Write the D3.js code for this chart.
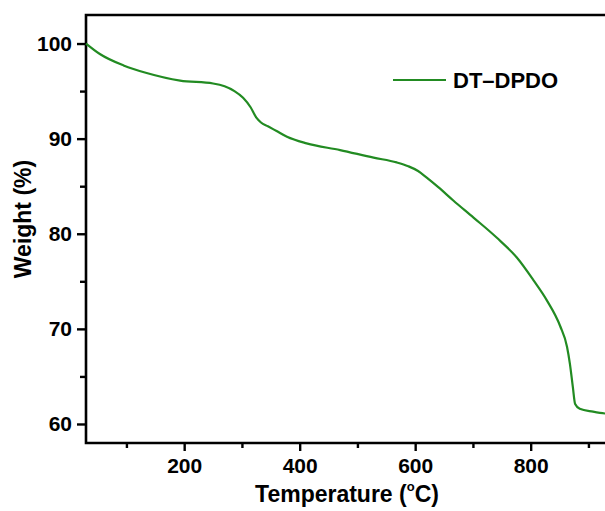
<!DOCTYPE html>
<html>
<head>
<meta charset="utf-8">
<script src="https://cdn.jsdelivr.net/npm/d3@7"></script>
<style>
  body { margin: 0; background: #fff; }
  svg { display: block; font-family: "Liberation Sans", Arial, sans-serif; font-weight: bold; }
</style>
</head>
<body>
<svg width="605" height="511"></svg>
<script>
// TGA curve of DT-DPDO
const temps   = [30, 54, 95, 135, 193, 250, 270, 287, 302, 315, 325, 333, 345, 360, 378, 412, 470, 528, 568, 588, 605, 620, 640, 666, 701, 741, 776, 805, 828, 851, 863, 868, 873, 877, 885, 908, 929, 960];
const weights = [100, 98.9, 97.7, 96.9, 96.1, 95.8, 95.5, 95.0, 94.3, 93.3, 92.2, 91.7, 91.3, 90.8, 90.2, 89.5, 88.8, 88.0, 87.5, 87.1, 86.6, 85.9, 84.9, 83.5, 81.7, 79.6, 77.5, 75.1, 73.0, 70.3, 68.1, 66.3, 63.9, 62.1, 61.6, 61.3, 61.1, 61.0];
const xTicks = [200, 400, 600, 800];
const yTicks = [60, 70, 80, 90, 100];
const seriesName = "DT\u2013DPDO";

const svg = d3.select("svg");
const m = {left: 86, top: 15, bottom: 443};

const x = d3.scaleLinear().domain([30, 1000]).range([m.left, m.left + 970 * 0.5775]);
const y = d3.scaleLinear().domain([58, 103]).range([m.bottom, m.top]);

const data = temps.map((t, i) => ({t: t, w: weights[i]}));

// frame (right side falls outside the picture)
svg.append("path")
  .attr("d", `M${x.range()[1]},${m.top}H${m.left}V${m.bottom}H${x.range()[1]}`)
  .attr("fill", "none").attr("stroke", "#000").attr("stroke-width", 2.6);

// minor ticks
const xMinor = d3.range(100, 1000, 200);
const yMinor = d3.range(65, 100, 10);

svg.append("g").attr("transform", `translate(0,${m.bottom})`)
  .call(d3.axisBottom(x).tickValues(xTicks).tickSize(8).tickPadding(7).tickFormat(d3.format("d")));
svg.append("g").attr("transform", `translate(0,${m.bottom})`)
  .call(d3.axisBottom(x).tickValues(xMinor).tickSize(5).tickFormat(""));

svg.append("g").attr("transform", `translate(${m.left},0)`)
  .call(d3.axisLeft(y).tickValues(yTicks).tickSize(9).tickPadding(5));
svg.append("g").attr("transform", `translate(${m.left},0)`)
  .call(d3.axisLeft(y).tickValues(yMinor).tickSize(6).tickFormat(""));

svg.selectAll(".domain").remove();
svg.selectAll(".tick line").attr("stroke", "#000").attr("stroke-width", 2.4);
svg.selectAll(".tick text").attr("fill", "#000").style("font-size", "21px").style("font-weight", "bold")
  .style("font-family", "'Liberation Sans', Arial, sans-serif");

// curve
const line = d3.line().x(d => x(d.t)).y(d => y(d.w)).curve(d3.curveMonotoneX);
svg.append("path").datum(data)
  .attr("d", line)
  .attr("fill", "none").attr("stroke", "#228B22").attr("stroke-width", 2.2);

// legend
svg.append("line").attr("x1", 393).attr("x2", 446).attr("y1", 80).attr("y2", 80)
  .attr("stroke", "#228B22").attr("stroke-width", 2.2);
svg.append("text").attr("x", 453).attr("y", 88).style("font-size", "22px").text(seriesName);

// axis titles
const xt = svg.append("text").attr("x", 347).attr("y", 502).attr("text-anchor", "middle").style("font-size", "23px");
xt.append("tspan").text("Temperature (");
xt.append("tspan").attr("dy", -11).style("font-size", "13px").text("o");
xt.append("tspan").attr("dy", 11).text("C)");

svg.append("text").attr("transform", "translate(31,219) rotate(-90)")
  .attr("text-anchor", "middle").style("font-size", "23px").text("Weight (%)");
</script>
</body>
</html>
